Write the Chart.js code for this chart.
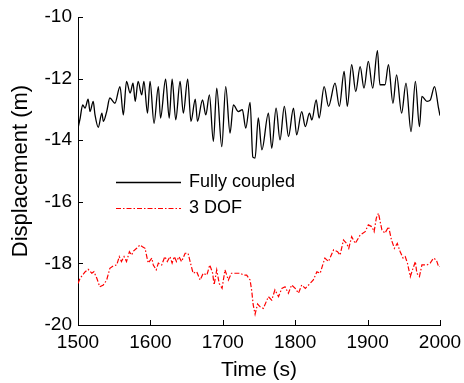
<!DOCTYPE html>
<html>
<head>
<meta charset="utf-8">
<script src="https://cdn.jsdelivr.net/npm/chart.js@4.4.0/dist/chart.umd.min.js"></script>
<style>
  html, body { margin: 0; padding: 0; background: #fff; }
  #wrap { width: 464px; height: 383px; }
</style>
</head>
<body>
<div id="wrap"><canvas id="c" width="464" height="383"></canvas></div>
<script>
// tick labels
const xTicks = [1500, 1600, 1700, 1800, 1900, 2000];
const yTicks = [-20, -18, -16, -14, -12, -10];

// Fully coupled (black), turning points of the oscillation
const coupledTime = [1500, 1503, 1506.5, 1509.7, 1514, 1516.6, 1521, 1523.5, 1528, 1533, 1535, 1539.6,
  1544, 1551, 1558, 1562.6, 1567, 1572, 1576, 1579, 1583, 1588, 1591, 1596, 1599.5, 1605, 1611, 1614,
  1621, 1626, 1630, 1635, 1641, 1645.5, 1651.5, 1656, 1662, 1665, 1672, 1676.5, 1681.5, 1687, 1691.6,
  1698.6, 1704, 1710, 1714.6, 1721.5, 1727, 1731.7, 1737.7, 1741.5, 1744.6, 1749, 1754, 1763, 1767.6,
  1773.6, 1779, 1785, 1790.7, 1797.6, 1802, 1809, 1814, 1819.7, 1823, 1829, 1833, 1840, 1846, 1855,
  1861, 1867.6, 1872, 1878, 1883.6, 1889.7, 1895, 1901, 1907, 1913.6, 1917, 1924, 1928.8, 1935, 1940,
  1947, 1953, 1960, 1966, 1971.6, 1975, 1982, 1986.5, 1992.4, 1998, 2000];
const coupledDisp = [-13.61, -13.28, -12.85, -12.96, -12.67, -13.07, -12.74, -13.18, -13.58, -13.12, -13.39, -13.07,
  -12.63, -12.80, -12.26, -13.18, -12.09, -12.47, -12.15, -12.74, -12.09, -12.53, -12.09, -13.12, -12.09, -13.45, -12.26, -13.28,
  -12.02, -13.28, -12.02, -13.34, -12.09, -13.12, -12.02, -13.39, -12.67, -13.39, -12.69, -13.18, -12.53, -14.04, -12.31,
  -14.21, -12.26, -13.77, -12.85, -13.07, -13.01, -13.61, -12.77, -14.55, -14.58, -13.28, -14.31, -13.12, -14.26,
  -12.96, -13.99, -12.90, -13.88, -12.96, -13.83, -13.07, -13.56, -13.12, -13.34, -12.69, -13.28, -12.26, -12.90, -12.15,
  -12.90, -11.77, -12.90, -11.55, -12.42, -11.61, -12.31, -11.44, -12.31, -11.09, -12.20, -12.20, -11.55, -12.80, -11.88,
  -13.12, -12.15, -13.72, -12.09, -13.56, -12.58, -12.74, -12.70, -12.26, -12.96, -13.20];

// 3 DOF (red dash-dot)
const dofTime = [1500, 1503, 1510, 1514, 1519, 1522, 1526, 1530, 1535, 1539.6, 1544, 1549, 1553.5, 1557,
  1560, 1563.6, 1567, 1571, 1574, 1577, 1581, 1585.7, 1589, 1592.6, 1595, 1597, 1602, 1604, 1608, 1611,
  1615.6, 1620, 1623.4, 1627, 1630, 1633, 1636, 1639.5, 1643, 1648, 1652, 1656, 1659, 1664, 1668.6, 1673,
  1678, 1682, 1686, 1688, 1691.6, 1695, 1699, 1703, 1707.7, 1712, 1717, 1724, 1728.5, 1733, 1737.7, 1740,
  1742, 1744.6, 1748, 1751.6, 1756, 1763, 1767.6, 1772, 1777, 1781.5, 1786, 1790.6, 1795, 1800, 1804.5,
  1809, 1814, 1820.6, 1825, 1830, 1834.5, 1838, 1841, 1846, 1853, 1858.5, 1862, 1866.7, 1871, 1874, 1878,
  1883, 1889.7, 1896.6, 1901, 1906, 1909, 1912, 1915, 1919.7, 1924, 1929, 1933, 1937, 1941, 1945, 1949,
  1952, 1955, 1959, 1962, 1966, 1968, 1971.6, 1975, 1982, 1986.5, 1991, 1995, 1998, 2000];
const dofDisp = [-18.65, -18.48, -18.27, -18.19, -18.32, -18.27, -18.48, -18.76, -18.70, -18.54, -18.16, -18.08, -18.05, -17.78,
  -17.94, -17.78, -17.94, -17.62, -17.73, -17.59, -17.51, -17.40, -17.46, -17.51, -17.78, -17.99, -17.83, -18.05, -18.21, -17.99,
  -18.05, -17.78, -17.94, -17.78, -17.99, -17.78, -17.94, -17.78, -17.94, -17.67, -17.67, -18.05, -18.32, -18.27, -18.54, -18.32,
  -18.38, -18.05, -18.32, -18.70, -18.21, -18.65, -18.81, -18.21, -18.54, -18.32, -18.32, -18.32, -18.38, -18.38, -18.54, -18.90,
  -19.35, -19.65, -19.32, -19.41, -19.46, -19.08, -19.19, -18.86, -19.08, -18.81, -18.76, -18.97, -18.70, -18.81, -18.97,
  -18.70, -18.81, -18.65, -18.54, -18.27, -18.32, -18.05, -17.83, -17.94, -17.56, -17.62, -17.73, -17.24, -17.35, -17.51, -17.13,
  -17.35, -17.08, -16.97, -16.75, -16.81, -16.97, -16.53, -16.37, -16.91, -17.02, -16.81, -17.24, -17.51, -17.35, -17.62, -17.83,
  -17.78, -17.99, -18.43, -18.21, -17.94, -18.32, -18.43, -18.05, -18.05, -17.99, -17.83, -17.89, -18.10, -18.10];

const FONT = '"Liberation Sans", Arial, sans-serif';

function toPoints(xs, ys) {
    return xs.map((x, i) => ({ x: x, y: ys[i] }));
}

// inward tick marks, like the original figure
const inwardTicks = {
    id: 'inwardTicks',
    afterDraw(chart) {
        const ctx = chart.ctx;
        const area = chart.chartArea;
        const xs = chart.scales.x, ys = chart.scales.y;
        ctx.save();
        ctx.strokeStyle = '#000';
        ctx.lineWidth = 1;
        ctx.beginPath();
        xTicks.forEach(v => {
            const px = Math.round(xs.getPixelForValue(v)) + 0.5;
            ctx.moveTo(px, area.bottom);
            ctx.lineTo(px, area.bottom - 5);
        });
        yTicks.forEach(v => {
            const py = Math.round(ys.getPixelForValue(v)) + 0.5;
            ctx.moveTo(area.left, py);
            ctx.lineTo(area.left + 5, py);
        });
        ctx.stroke();
        ctx.restore();
    }
};

// legend drawn inside the plot
const innerLegend = {
    id: 'innerLegend',
    afterDraw(chart) {
        const ctx = chart.ctx;
        const area = chart.chartArea;
        const x0 = area.left + 38, x1 = area.left + 103;
        ctx.save();
        ctx.font = '18px ' + FONT;
        ctx.textBaseline = 'middle';
        ctx.fillStyle = '#000';
        chart.data.datasets.forEach((ds, i) => {
            const y = area.top + 165 + i * 26 + 0.5;
            ctx.strokeStyle = ds.borderColor;
            ctx.lineWidth = ds.borderWidth;
            ctx.setLineDash(ds.borderDash || []);
            ctx.beginPath();
            ctx.moveTo(x0, y);
            ctx.lineTo(x1, y);
            ctx.stroke();
            ctx.setLineDash([]);
            ctx.fillText(ds.label, x1 + 8, y);
        });
        ctx.restore();
    }
};

const chart = new Chart(document.getElementById('c'), {
    type: 'line',
    data: {
        datasets: [
            {
                label: 'Fully coupled',
                data: toPoints(coupledTime, coupledDisp),
                borderColor: '#000',
                borderWidth: 1.3,
                pointRadius: 0,
                cubicInterpolationMode: 'monotone',
                fill: false
            },
            {
                label: '3 DOF',
                data: toPoints(dofTime, dofDisp),
                borderColor: '#ff0000',
                borderWidth: 1.2,
                borderDash: [5, 2, 1.5, 2],
                pointRadius: 0,
                tension: 0,
                fill: false
            }
        ]
    },
    options: {
        responsive: false,
        animation: false,
        layout: { padding: { left: 4, right: 24, top: 17, bottom: 0 } },
        plugins: {
            legend: { display: false },
            tooltip: { enabled: false }
        },
        scales: {
            x: {
                type: 'linear',
                min: 1500,
                max: 2000,
                afterBuildTicks: s => { s.ticks = xTicks.map(v => ({ value: v })); },
                afterFit: s => { s.height = 58; s.paddingLeft = 0; s.paddingRight = 0; },
                grid: { display: false, drawTicks: false },
                border: { display: true, color: '#000', width: 1 },
                ticks: {
                    color: '#000', padding: 6, maxRotation: 0,
                    font: { family: FONT, size: 19 },
                    callback: v => String(v)
                },
                title: {
                    display: true,
                    text: 'Time (s)',
                    color: '#000',
                    padding: 0,
                    font: { family: FONT, size: 21 }
                }
            },
            y: {
                min: -20,
                max: -10,
                afterBuildTicks: s => { s.ticks = yTicks.map(v => ({ value: v })); },
                afterFit: s => { s.width = 74; s.paddingTop = 0; s.paddingBottom = 0; },
                grid: { display: false, drawTicks: false },
                border: { display: true, color: '#000', width: 1 },
                ticks: {
                    color: '#000', padding: 6,
                    font: { family: FONT, size: 19 },
                    callback: v => String(v)
                },
                title: {
                    display: true,
                    text: 'Displacement (m)',
                    color: '#000',
                    padding: 4,
                    font: { family: FONT, size: 22 }
                }
            }
        }
    },
    plugins: [inwardTicks, innerLegend]
});
</script>
</body>
</html>
